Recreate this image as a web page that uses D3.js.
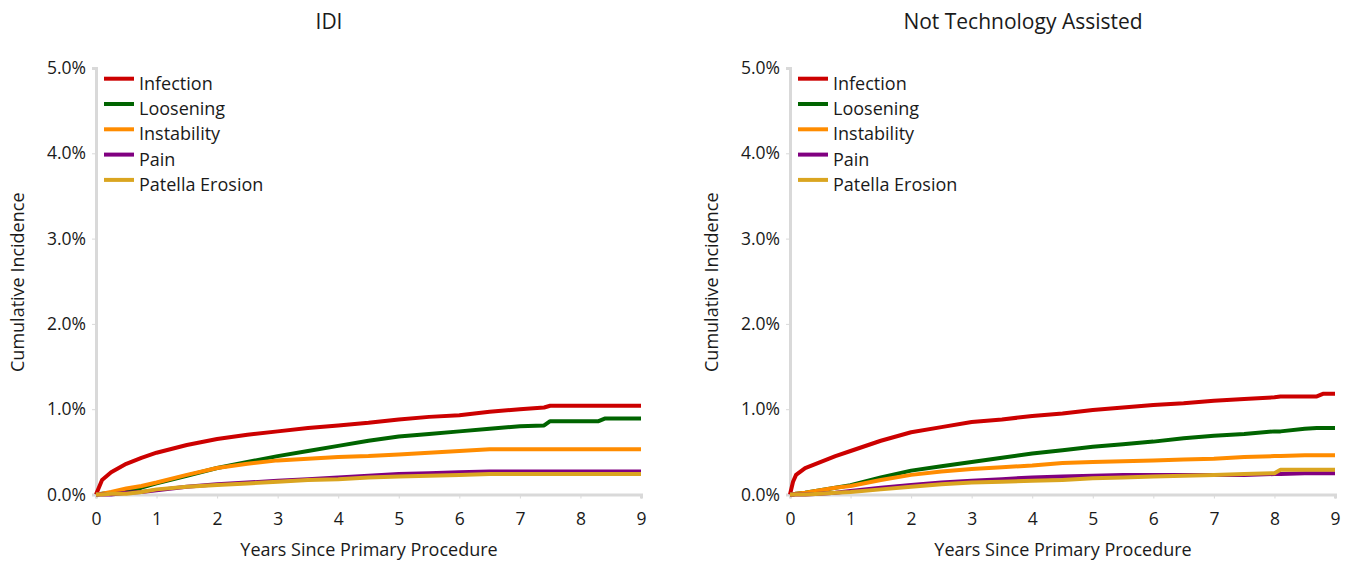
<!DOCTYPE html>
<html><head><meta charset="utf-8">
<script src="https://cdn.jsdelivr.net/npm/d3@7/dist/d3.min.js"></script>
<style>
html,body{margin:0;padding:0;background:#fff;}
svg{display:block;font-family:"Open Sans","Noto Sans",sans-serif;}
</style></head>
<body><svg id="chart" width="1355" height="566"></svg>
<script>
const seriesNames = ["Infection","Loosening","Instability","Pain","Patella Erosion"];
const seriesColors = ["#cc0000","#006400","#ff8c00","#800080","#daa520"];
const xTicks = [0,1,2,3,4,5,6,7,8,9];
const yTicks = [0,1,2,3,4,5];
const panelTitles = ["IDI","Not Technology Assisted"];

// IDI panel
const idiTimes       = [0,0.1,0.25,0.5,0.75,1,1.5,2,2.5,3,3.5,4,4.5,5,5.5,6,6.5,7,7.4,7.5,8,8.3,8.4,9];
const idiInfection   = [0,0.17,0.26,0.36,0.43,0.49,0.58,0.65,0.70,0.74,0.78,0.81,0.84,0.88,0.91,0.93,0.97,1.00,1.02,1.04,1.04,1.04,1.04,1.04];
const idiLoosening   = [0,0.01,0.02,0.04,0.08,0.13,0.22,0.31,0.38,0.45,0.51,0.57,0.63,0.68,0.71,0.74,0.77,0.80,0.81,0.86,0.86,0.86,0.89,0.89];
const idiInstability = [0,0.01,0.03,0.07,0.10,0.14,0.23,0.31,0.36,0.40,0.42,0.44,0.45,0.47,0.49,0.51,0.53,0.53,0.53,0.53,0.53,0.53,0.53,0.53];
const idiPain        = [0,0,0,0.02,0.03,0.05,0.09,0.12,0.14,0.16,0.18,0.20,0.22,0.24,0.25,0.26,0.27,0.27,0.27,0.27,0.27,0.27,0.27,0.27];
const idiPatella     = [0,0,0.01,0.01,0.03,0.06,0.09,0.11,0.13,0.15,0.17,0.18,0.20,0.21,0.22,0.23,0.24,0.24,0.24,0.24,0.24,0.24,0.24,0.24];

// Not Technology Assisted panel
const ntaTimes       = [0,0.05,0.1,0.25,0.5,0.75,1,1.5,2,2.5,3,3.5,4,4.5,5,5.5,6,6.5,7,7.5,8,8.1,8.5,8.7,8.8,9];
const ntaInfection   = [0,0.15,0.23,0.31,0.38,0.45,0.51,0.63,0.73,0.79,0.85,0.88,0.92,0.95,0.99,1.02,1.05,1.07,1.10,1.12,1.14,1.15,1.15,1.15,1.18,1.18];
const ntaLoosening   = [0,0,0.01,0.02,0.05,0.08,0.11,0.20,0.28,0.33,0.38,0.43,0.48,0.52,0.56,0.59,0.62,0.66,0.69,0.71,0.74,0.74,0.77,0.78,0.78,0.78];
const ntaInstability = [0,0,0.01,0.02,0.05,0.08,0.10,0.17,0.23,0.27,0.30,0.32,0.34,0.37,0.38,0.39,0.40,0.41,0.42,0.44,0.45,0.45,0.46,0.46,0.46,0.46];
const ntaPain        = [0,0,0,0,0.01,0.02,0.04,0.08,0.11,0.14,0.16,0.18,0.20,0.21,0.22,0.23,0.23,0.23,0.23,0.23,0.24,0.24,0.25,0.25,0.25,0.25];
const ntaPatella     = [0,0,0,0,0.01,0.02,0.03,0.06,0.09,0.12,0.14,0.15,0.16,0.17,0.19,0.20,0.21,0.22,0.23,0.24,0.25,0.29,0.29,0.29,0.29,0.29];

const panels = [
  {title: panelTitles[0], times: idiTimes, values: [idiInfection, idiLoosening, idiInstability, idiPain, idiPatella], left: 96},
  {title: panelTitles[1], times: ntaTimes, values: [ntaInfection, ntaLoosening, ntaInstability, ntaPain, ntaPatella], left: 790}
];

const svg = d3.select("#chart");
const plotW = 545, plotTop = 68, plotBottom = 494.5;
const axisColor = "#d9d9d9";
const textColor = "#1a1a1a";
const fontFam = "'Open Sans','Noto Sans',sans-serif";

panels.forEach(p => {
  const x = d3.scaleLinear().domain([0,9]).range([p.left, p.left + plotW]);
  const y = d3.scaleLinear().domain([0,5]).range([plotBottom, plotTop]);
  const g = svg.append("g");

  g.append("text").attr("x", p.left + 233).attr("y", 29)
    .attr("text-anchor","middle").attr("font-size", 21).attr("fill", textColor).text(p.title);

  const yAxis = d3.axisLeft(y).tickValues(yTicks).tickSize(4).tickPadding(6)
    .tickFormat(d => d.toFixed(1) + "%");
  const ya = g.append("g").attr("transform", `translate(${p.left},0)`).call(yAxis);
  ya.select(".domain").attr("stroke", axisColor).attr("stroke-width", 3);
  ya.selectAll(".tick line").attr("stroke", axisColor).attr("stroke-width", 1);
  ya.selectAll(".tick text").attr("font-size", 17.5).attr("fill", textColor).attr("font-family", fontFam);

  const xAxis = d3.axisBottom(x).tickValues(xTicks).tickSize(4).tickPadding(14).tickFormat(d3.format("d"));
  const xa = g.append("g").attr("transform", `translate(0,${plotBottom})`).call(xAxis);
  xa.select(".domain").attr("stroke", axisColor).attr("stroke-width", 3);
  xa.selectAll(".tick line").attr("stroke", axisColor).attr("stroke-width", 1);
  xa.selectAll(".tick text").attr("font-size", 17.5).attr("fill", textColor).attr("font-family", fontFam);

  g.append("text").attr("x", p.left + 273).attr("y", 556)
    .attr("text-anchor","middle").attr("font-size", 18).attr("fill", textColor)
    .text("Years Since Primary Procedure");
  g.append("text").attr("transform", `translate(${p.left - 72},${(plotTop+plotBottom)/2 + 1}) rotate(-90)`)
    .attr("text-anchor","middle").attr("font-size", 18).attr("fill", textColor)
    .text("Cumulative Incidence");

  const line = d3.line().x(d => x(d[0])).y(d => y(d[1])).curve(d3.curveLinear);
  p.values.forEach((vals, i) => {
    const pts = p.times.map((t, j) => [t, vals[j]]);
    g.append("path").datum(pts).attr("d", line)
      .attr("fill","none").attr("stroke", seriesColors[i]).attr("stroke-width", 4)
      .attr("stroke-linejoin","round");
  });

  const lg = g.append("g").attr("transform", `translate(${p.left + 8},78.7)`);
  seriesNames.forEach((name, i) => {
    const row = lg.append("g").attr("transform", `translate(0,${i*25.3})`);
    row.append("line").attr("x1",0).attr("x2",30).attr("y1",0).attr("y2",0)
      .attr("stroke", seriesColors[i]).attr("stroke-width", 4);
    row.append("text").attr("x", 35).attr("y", 11).attr("font-size", 18)
      .attr("fill", textColor).text(name);
  });
});
</script>
</body></html>
